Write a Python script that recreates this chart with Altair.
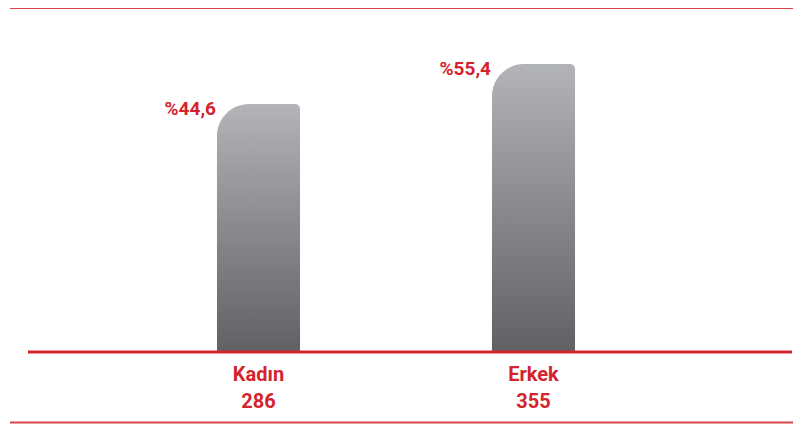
import altair as alt
import pandas as pd

# ---- data ----
categories = ["Kadın", "Erkek"]
counts = [286, 355]
percents = [44.6, 55.4]
pct_labels = ["%44,6", "%55,4"]

axis_labels = [f"{c}\n{n}" for c, n in zip(categories, counts)]
df = pd.DataFrame({"cat": axis_labels, "pct": percents, "lbl": pct_labels})

RED = "#d3242d"
LINE_RED = "#d8454c"
Y_MIN, Y_MAX = -22.36, 70.52

x_enc = alt.X(
    "cat:N",
    sort=axis_labels,
    scale=alt.Scale(range=[113, 663], paddingInner=0.698, paddingOuter=0.349),
    axis=alt.Axis(
        title=None, domain=False, ticks=False, grid=False,
        labelExpr="split(datum.label, '\\n')",
        labelColor=RED, labelFont="Roboto", labelFontWeight="bold",
        labelFontSize=20, labelLineHeight=27, labelPadding=12,
        labelAngle=0,
    ),
)
y_scale = alt.Scale(domain=[Y_MIN, Y_MAX], zero=False, nice=False)

base = alt.Chart(df)

bars = base.mark_bar(
    cornerRadiusTopLeft=32,
    cornerRadiusTopRight=5,
    color=alt.Gradient(
        gradient="linear",
        stops=[
            alt.GradientStop(color="#b3b4b7", offset=0),
            alt.GradientStop(color="#616064", offset=1),
        ],
        x1=0, x2=0, y1=0, y2=1,
    ),
).encode(
    x=x_enc,
    y=alt.Y("pct:Q", scale=y_scale, axis=None),
    y2=alt.datum(Y_MIN),
)

texts = base.mark_text(
    align="right", baseline="alphabetic", dx=-42.5, dy=11,
    font="Roboto", fontWeight="bold", fontSize=19, color=RED,
).encode(
    x=alt.X("cat:N", sort=axis_labels),
    y=alt.Y("pct:Q", scale=y_scale, axis=None),
    text="lbl:N",
)

one = pd.DataFrame({"a": [0]})
top_line = alt.Chart(one).mark_rule(color=LINE_RED, strokeWidth=2).encode(
    x=alt.value(2), x2=alt.value(785), y=alt.value(0)
)
base_line = alt.Chart(one).mark_rule(color=RED, strokeWidth=3).encode(
    x=alt.value(20), x2=alt.value(784), y=alt.value(344)
)
bottom_line = alt.Chart(one).mark_rule(color=LINE_RED, strokeWidth=2).encode(
    x=alt.value(2), x2=alt.value(785), y=alt.value(414.5)
)

chart = alt.layer(bars, texts, top_line, base_line, bottom_line).properties(
    width=785,
    height=344,
    background="white",
    autosize=alt.AutoSizeParams(type="none"),
    padding={"left": 0, "top": 0, "right": 0, "bottom": 72},
).configure_view(
    stroke="transparent", strokeWidth=0
).configure_axisY(
    domain=False, labels=False, ticks=False, grid=False
)

chart.save("out.html", embed_options={"renderer": "svg", "actions": False})
